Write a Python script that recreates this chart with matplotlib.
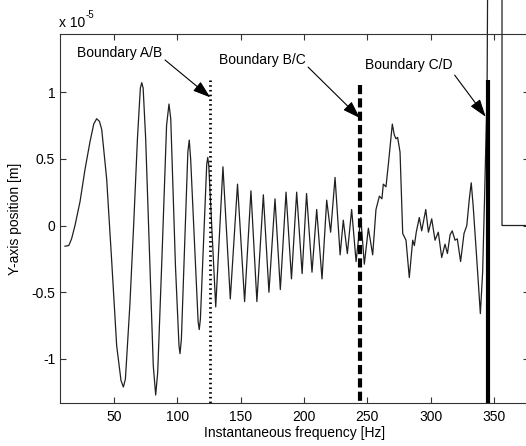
#! /usr/bin/env python3
"""Y-axis position vs instantaneous frequency with region boundaries."""

import matplotlib
matplotlib.use("Agg")
import matplotlib.pyplot as plt
from matplotlib.patches import ArrowStyle

plt.rcParams["font.family"] = ["Liberation Sans", "DejaVu Sans"]

# signal: frequency [Hz], position [x 1e-5 m]
freq = [
    11.3, 14.3, 16.5, 19.2, 23.2, 27.1, 31.1, 34.0, 36.3, 38.5, 40.3, 44.2,
    48.2, 52.1, 55.5, 57.4, 59.0, 62.5, 65.5, 68.5, 70.8, 71.9, 73.0, 75.0,
    78.0, 81.0, 82.9, 84.5, 88.0, 91.5, 93.4, 94.8, 98.5, 101.3, 102.1, 103.2,
    108.3, 109.4, 110.5, 116.4, 117.3, 118.2, 123.2, 124.0, 124.8, 130.3,
    136.0, 141.8, 147.5, 153.1, 158.1, 162.8, 167.9, 172.3, 177.1, 181.3,
    185.8, 190.1, 194.2, 198.5, 202.0, 206.3, 210.0, 214.2, 217.9, 221.0,
    224.5, 228.5, 231.0, 234.2, 237.6, 241.1, 244.8, 247.6, 250.8, 254.2,
    256.8, 259.5, 261.5, 262.6, 264.7, 266.8, 269.7, 271.2, 272.6, 273.9,
    275.8, 277.9, 280.5, 283.1, 285.8, 287.1, 288.6, 291.0, 292.9, 296.1,
    298.2, 300.8, 303.4, 306.0, 308.7, 311.3, 313.2, 315.3, 317.0, 319.2,
    321.0, 323.6, 326.3, 328.5, 330.5, 332.0, 333.5, 336.0, 339.2, 341.0,
    342.5, 344.5, 345.6, 356.3, 356.3, 380.0,
]
ypos = [
    -0.155, -0.15, -0.10, 0.0, 0.18, 0.42, 0.63, 0.76, 0.80, 0.78, 0.72, 0.35,
    -0.27, -0.90, -1.16, -1.21, -1.15, -0.60, 0.0, 0.65, 1.03, 1.07, 1.03, 0.65,
    -0.20, -1.05, -1.27, -1.10, -0.20, 0.75, 0.91, 0.80, -0.30, -0.90, -0.96, -0.85,
    0.55, 0.64, 0.50, -0.72, -0.78, -0.70, 0.46, 0.51, 0.45, -0.61,
    0.44, -0.55, 0.31, -0.57, 0.26, -0.57, 0.23, -0.50, 0.20, -0.48,
    0.25, -0.40, 0.25, -0.36, 0.24, -0.35, 0.12, -0.40, 0.19, -0.05,
    0.36, -0.22, 0.04, -0.21, 0.12, -0.27, 0.06, -0.29, -0.02, -0.22,
    0.12, 0.22, 0.20, 0.31, 0.29, 0.48, 0.76, 0.68, 0.65, 0.66,
    0.55, -0.06, -0.11, -0.39, -0.11, -0.15, -0.05, 0.06, -0.04, 0.12,
    -0.05, 0.05, -0.11, -0.05, -0.24, -0.14, -0.21, -0.07, -0.04, -0.11,
    -0.10, -0.27, -0.06, 0.0, 0.20, 0.32, 0.15, -0.20, -0.66, -0.35,
    0.20, 1.00, 3.00, 3.00, 0.0, 0.0,
]

# boundaries: label, frequency, top of line, line style, width
bnd_names = ["Boundary A/B", "Boundary B/C", "Boundary C/D"]
bnd_freq = [125.8, 244.0, 345.5]
bnd_top = [1.09, 1.05, 1.09]
bnd_style = [(0, (0.55, 1.15)), (0, (2.2, 1.0)), "-"]
bnd_width = [2.0, 3.0, 3.0]
# label centres and arrow tails / tips
lbl_xy = [(54.3, 1.29), (166.8, 1.24), (282.3, 1.20)]
arrow_tail = [(90.3, 1.24), (203.2, 1.187), (318.9, 1.127)]
arrow_tip = [(126.0, 0.96), (244.1, 0.805), (343.4, 0.815)]

xticks = [50, 100, 150, 200, 250, 300, 350]
yticks = [-1, -0.5, 0, 0.5, 1]
yticklabels = ["-1", "-0.5", "0", "0.5", "1"]


def main():
    fig = plt.figure(figsize=(5.26, 4.46), dpi=100)
    ax = fig.add_axes([60 / 526, 42.7 / 446, 469 / 526, 369.6 / 446])

    ax.plot(freq, ypos, color="#202020", lw=0.9, clip_on=False, zorder=2)

    for f, top, ls, lw in zip(bnd_freq, bnd_top, bnd_style, bnd_width):
        ax.plot([f, f], [top, -1.332], color="k", lw=lw, ls=ls,
                solid_capstyle="butt", dash_capstyle="butt", zorder=3)

    head = ArrowStyle("-|>", head_length=0.9, head_width=0.3)
    for name, lxy, tail, tip in zip(bnd_names, lbl_xy, arrow_tail, arrow_tip):
        ax.text(lxy[0], lxy[1], name, ha="center", va="center", fontsize=10)
        ax.annotate("", xy=tip, xytext=tail,
                    arrowprops=dict(arrowstyle=head, color="k", lw=0.8,
                                    mutation_scale=12, shrinkA=0, shrinkB=0))

    ax.set_xlim(7.37, 377.6)
    ax.set_ylim(-1.332, 1.437)
    ax.set_xticks(xticks)
    ax.set_yticks(yticks)
    ax.set_yticklabels(yticklabels)
    ax.tick_params(direction="in", top=True, right=True, length=4.5,
                   width=0.8, color="#333333", labelsize=10)
    ax.tick_params(axis="x", pad=5)
    ax.tick_params(axis="y", pad=3.5)
    for sp in ax.spines.values():
        sp.set_color("#333333")
        sp.set_linewidth(0.8)

    ax.set_xlabel("Instantaneous frequency [Hz]", fontsize=10)
    ax.xaxis.set_label_coords(0.5, -0.061)
    ax.set_ylabel("Y-axis position [m]", fontsize=10)
    ax.yaxis.set_label_coords(-0.081, 0.5)

    fig.text(59 / 526, 1 - 23 / 446, "x 10", fontsize=10, va="center")
    fig.text(86 / 526, 1 - 15 / 446, "-5", fontsize=7, va="center")

    fig.savefig("out.png", dpi=100)


if __name__ == "__main__":
    main()
